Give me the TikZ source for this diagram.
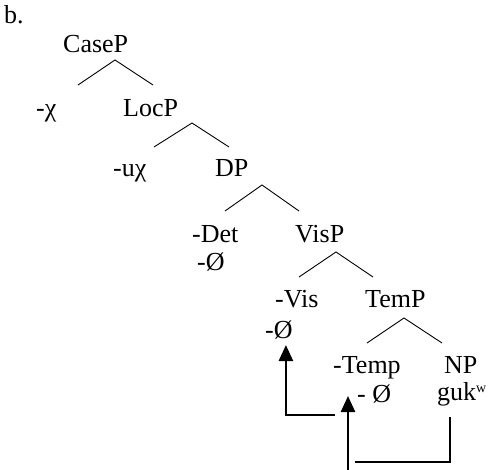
\documentclass[tikz,border=0pt]{standalone}
\usepackage{fontspec}
\setmainfont{Liberation Serif}
\usetikzlibrary{calc,arrows.meta}

\begin{document}
\begin{tikzpicture}[x=1pt, y=-1pt,
  font=\fontsize{26}{30}\selectfont,
  lbl/.style={anchor=base west, inner sep=0pt},
  branch/.style={line width=0.9pt},
  mvline/.style={line width=2.5pt},
  mv/.style={mvline, -{Triangle[width=14pt,length=16pt]}}]
  \useasboundingbox (0,0) rectangle (489,470);
  % tree labels
  \node[lbl] (b) at (4,24) {b.};
  \node[lbl] (CaseP) at (63,53) {CaseP};
  \node[lbl] (chi) at (36,117) {-χ};
  \node[lbl] (LocP) at (123,117) {LocP};
  \node[lbl] (uchi) at (113,177) {-uχ};
  \node[lbl] (DP) at (215,177) {DP};
  \node[lbl] (Det) at (192,242) {-Det};
  \node[lbl] (detnull) at (197,270) {-Ø};
  \node[lbl] (VisP) at (295,242) {VisP};
  \node[lbl] (Vis) at (275,307) {-Vis};
  \node[lbl] (visnull) at (265,338) {-Ø};
  \node[lbl] (TemP) at (365,307) {TemP};
  \node[lbl] (Temp) at (333,373) {-Temp};
  \node[lbl] (NP) at (444,373) {NP};
  \node[lbl] (tempnull) at (357,402) {- Ø};
  \node[lbl] (gukw) at (437,400) {guk\raisebox{8pt}{\fontsize{14}{14}\selectfont w}};

  % branches
  \coordinate (CaseP-top) at (115,60);
  \coordinate (LocP-top) at (192,123);
  \coordinate (DP-top) at (262,185);
  \coordinate (VisP-top) at (336,252);
  \coordinate (TemP-top) at (404,318);
  \draw[branch] (CaseP-top) ++(-37,25) -- (CaseP-top) -- ++(38,25);
  \draw[branch] (LocP-top) ++(-38,24) -- (LocP-top) -- ++(37,24);
  \draw[branch] (DP-top) ++(-37,26) -- (DP-top) -- ++(37,26);
  \draw[branch] (VisP-top) ++(-37,25) -- (VisP-top) -- ++(37,25);
  \draw[branch] (TemP-top) ++(-37,25) -- (TemP-top) -- ++(38,25);

  % movement
  \coordinate (foot) at (348,470);
  \draw[mv] (foot) -- ($(foot |- tempnull.base)+(0,-6)$);
  \draw[mvline] ($(gukw.base west)+(13,17)$) |- ($(foot)+(7,-8)$);
  \draw[mv] ($(foot)+(-13,-55)$) -| ($(visnull.base)+(7,7)$);
\end{tikzpicture}
\end{document}
